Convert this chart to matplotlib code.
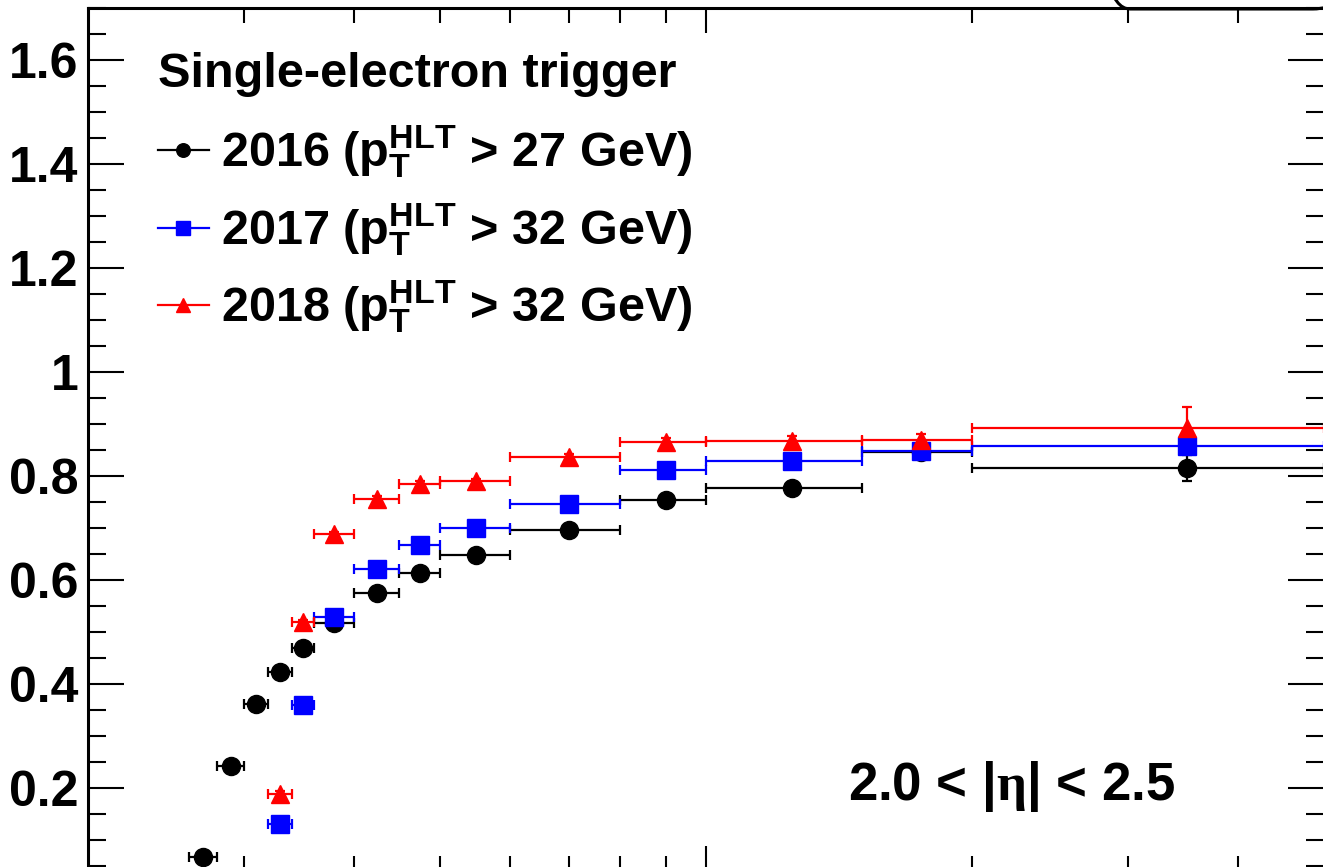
import numpy as np
import matplotlib
matplotlib.use('Agg')
import matplotlib.pyplot as plt
from matplotlib.lines import Line2D
from matplotlib.patches import FancyBboxPatch
from matplotlib.ticker import MultipleLocator, FuncFormatter, FixedLocator, NullFormatter

plt.rcParams['font.family'] = ['Liberation Sans', 'DejaVu Sans']
plt.rcParams['font.weight'] = 'bold'
plt.rcParams['mathtext.fontset'] = 'custom'
plt.rcParams['mathtext.bf'] = 'Liberation Sans:bold'
plt.rcParams['mathtext.rm'] = 'Liberation Serif'
plt.rcParams['mathtext.it'] = 'Liberation Serif:italic'

# pT bins (GeV)
edges_2016 = [26, 28, 30, 32, 34, 36, 40, 45, 50, 60, 80, 100, 150, 200, 500]
edges_2017 = [32, 34, 36, 40, 45, 50, 60, 80, 100, 150, 200, 500]
edges_2018 = [32, 34, 36, 40, 45, 50, 60, 80, 100, 150, 200, 500]

eff_2016 = [0.067, 0.242, 0.362, 0.423, 0.469, 0.517, 0.575, 0.613, 0.648, 0.696, 0.754, 0.777, 0.846, 0.815]
err_2016 = [0.005, 0.005, 0.005, 0.005, 0.005, 0.005, 0.005, 0.005, 0.005, 0.005, 0.006, 0.012, 0.012, 0.025]
eff_2017 = [0.131, 0.360, 0.529, 0.621, 0.667, 0.700, 0.746, 0.812, 0.829, 0.848, 0.858]
err_2017 = [0.005, 0.005, 0.005, 0.005, 0.005, 0.005, 0.005, 0.006, 0.013, 0.016, 0.016]
eff_2018 = [0.188, 0.519, 0.688, 0.756, 0.785, 0.790, 0.837, 0.865, 0.867, 0.869, 0.892]
err_2018 = [0.006, 0.005, 0.005, 0.005, 0.005, 0.005, 0.005, 0.009, 0.009, 0.012, 0.04]

labels = [r'2016 ($\mathbf{p}_{\mathbf{T}}^{\mathbf{HLT}}$ > 27 GeV)',
          r'2017 ($\mathbf{p}_{\mathbf{T}}^{\mathbf{HLT}}$ > 32 GeV)',
          r'2018 ($\mathbf{p}_{\mathbf{T}}^{\mathbf{HLT}}$ > 32 GeV)']

x_minor = [30, 40, 50, 60, 70, 80, 90, 200, 300, 400]

fig = plt.figure(figsize=(13.23, 8.67), dpi=100)
ax = fig.add_axes([0.06652, -0.00484, 0.93424, 0.9956])

series = [(edges_2016, eff_2016, err_2016, 'black', 'o', 13),
          (edges_2017, eff_2017, err_2017, '#0000ff', 's', 12.5),
          (edges_2018, eff_2018, err_2018, '#ff0000', '^', 13)]

handles = []
for edges, eff, err, col, mk, ms in series:
    e = np.array(edges, dtype=float)
    lo, hi = e[:-1], e[1:]
    x = (lo + hi) / 2
    ax.errorbar(x, eff, xerr=[x - lo, hi - x], yerr=err, fmt=mk, color=col,
                ms=ms, mec=col, elinewidth=1.6, capsize=3.5, capthick=1.6)
    handles.append(Line2D([], [], color=col, marker=mk, ms=ms * 0.75, lw=1.6, mec=col))

ax.set_xscale('log')
ax.set_xlim(20, 500)
ax.set_ylim(0.04, 1.7)

ax.xaxis.set_major_locator(FixedLocator([100]))
ax.xaxis.set_minor_locator(FixedLocator(x_minor))
ax.xaxis.set_major_formatter(NullFormatter())
ax.xaxis.set_minor_formatter(NullFormatter())
ax.yaxis.set_major_locator(MultipleLocator(0.2))
ax.yaxis.set_minor_locator(MultipleLocator(0.05))
ax.yaxis.set_major_formatter(FuncFormatter(lambda v, p: '%g' % round(v, 2)))

ax.tick_params(which='both', direction='in', top=True, right=True, labelbottom=False)
ax.tick_params(axis='x', which='major', length=18, width=1.5)
ax.tick_params(axis='x', which='minor', length=11, width=1.5)
ax.tick_params(axis='y', which='major', length=26, width=1.5, labelsize=36, pad=7)
ax.tick_params(axis='y', which='minor', length=13, width=1.5)
for s in ax.spines.values():
    s.set_linewidth(2.2)

ax.text(0.0566, 0.909, 'Single-electron trigger', transform=ax.transAxes,
        fontsize=35, fontweight='bold', va='baseline', ha='left')
leg = ax.legend(handles, labels, loc='upper left',
                bbox_to_anchor=(0.0566, 0.8655), frameon=False, fontsize=35,
                handlelength=1.05, handletextpad=0.25, labelspacing=0.43,
                borderaxespad=0, borderpad=0)

ax.text(0.615, 0.0825, r'2.0 < |$\mathrm{\eta}$| < 2.5', transform=ax.transAxes,
        fontsize=38, fontweight='bold', va='baseline', ha='left')

# rounded box poking in above the frame
box = FancyBboxPatch((11.00, 8.58), 2.43, 1.5, boxstyle='round,pad=0,rounding_size=0.3',
                     transform=fig.dpi_scale_trans, fill=False, lw=2.2, ec='black', clip_on=False)
fig.add_artist(box)

fig.savefig('out.png', dpi=100)
